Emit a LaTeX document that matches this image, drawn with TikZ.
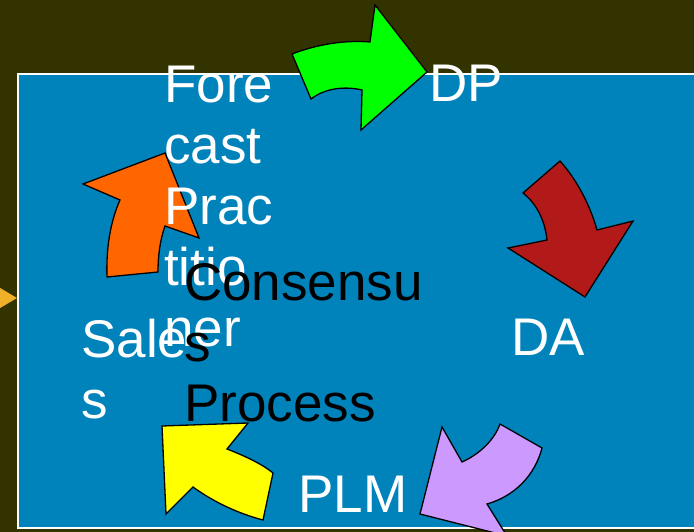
\documentclass[tikz,border=0pt]{standalone}
\usepackage{fontspec}
\setmainfont{Liberation Sans}
\definecolor{bgdark}{RGB}{51,51,0}
\definecolor{panelblue}{RGB}{0,131,186}
\definecolor{goldtip}{RGB}{240,176,40}
\definecolor{arrgreen}{RGB}{0,255,0}
\definecolor{arrred}{RGB}{178,26,26}
\definecolor{arrpurple}{RGB}{204,153,255}
\definecolor{arryellow}{RGB}{255,255,0}
\definecolor{arrorange}{RGB}{255,102,0}
\begin{document}
\begin{tikzpicture}[x=1pt,y=-1pt,
  cyclearrow/.style={draw=black,line width=1.3pt,line join=miter},
  lbl/.style={anchor=base west,inner sep=0pt,text=white,
    font=\fontsize{53}{61}\selectfont},
  lbldark/.style={lbl,text=black}]
\useasboundingbox (0,0) rectangle (694,532);
\clip (0,0) rectangle (694,532);
% backdrop and panel
\fill[bgdark] (0,0) rectangle (694,532);
\draw[draw=white,line width=1.6pt,fill=panelblue] (18,74) rectangle (720,528);
\fill[goldtip] (-10,282) -- (17,298) -- (-10,314) -- cycle;
% cycle of curved arrows
\draw[cyclearrow,fill=arrgreen] (292,54) .. controls (318,44) and (345,40) .. (370,42)
  -- (375,5) -- (427,72) -- (361,130) -- (362,90)
  .. controls (345,86) and (325,88) .. (311,99) -- cycle;
\draw[cyclearrow,fill=arrred] (523,193) -- (560,161)
  .. controls (577,180) and (590,205) .. (597,230)
  -- (633,221) -- (585,297) -- (508,248) -- (547,240)
  .. controls (545,222) and (538,205) .. (523,193) -- cycle;
\draw[cyclearrow,fill=arrpurple] (500,424) -- (542,448)
  .. controls (535,475) and (515,496) .. (487,504)
  -- (507,536) -- (420,514) -- (442,427) -- (462,462)
  .. controls (478,455) and (494,441) .. (500,424) -- cycle;
\draw[cyclearrow,fill=arryellow] (162,426) -- (248,423) -- (227,449)
  .. controls (245,456) and (262,464) .. (273,473)
  -- (263,520) .. controls (240,514) and (215,503) .. (193,487)
  -- (166,514) -- cycle;
\draw[cyclearrow,fill=arrorange] (83,184) -- (165,153) -- (199,238) -- (165,226)
  .. controls (160,240) and (158,256) .. (158,272)
  -- (107,277) .. controls (106,250) and (110,222) .. (120,200) -- cycle;
% labels
\node[lbl] (forecast) at (164,103) {\parbox[t]{200pt}{Fore\\cast\\Prac\\titio\\ner}};
\node[lbl] (dp) at (429,102) {DP};
\node[lbl] (da) at (511,355) {DA};
\node[lbl] (plm) at (298,512) {PLM};
\node[lbl] (sales) at (81,357) {\parbox[t]{200pt}{Sale\\s}};
\node[lbldark] (consensus) at (184,300) {\parbox[t]{300pt}{Consensu\\s\\Process}};
\end{tikzpicture}
\end{document}
